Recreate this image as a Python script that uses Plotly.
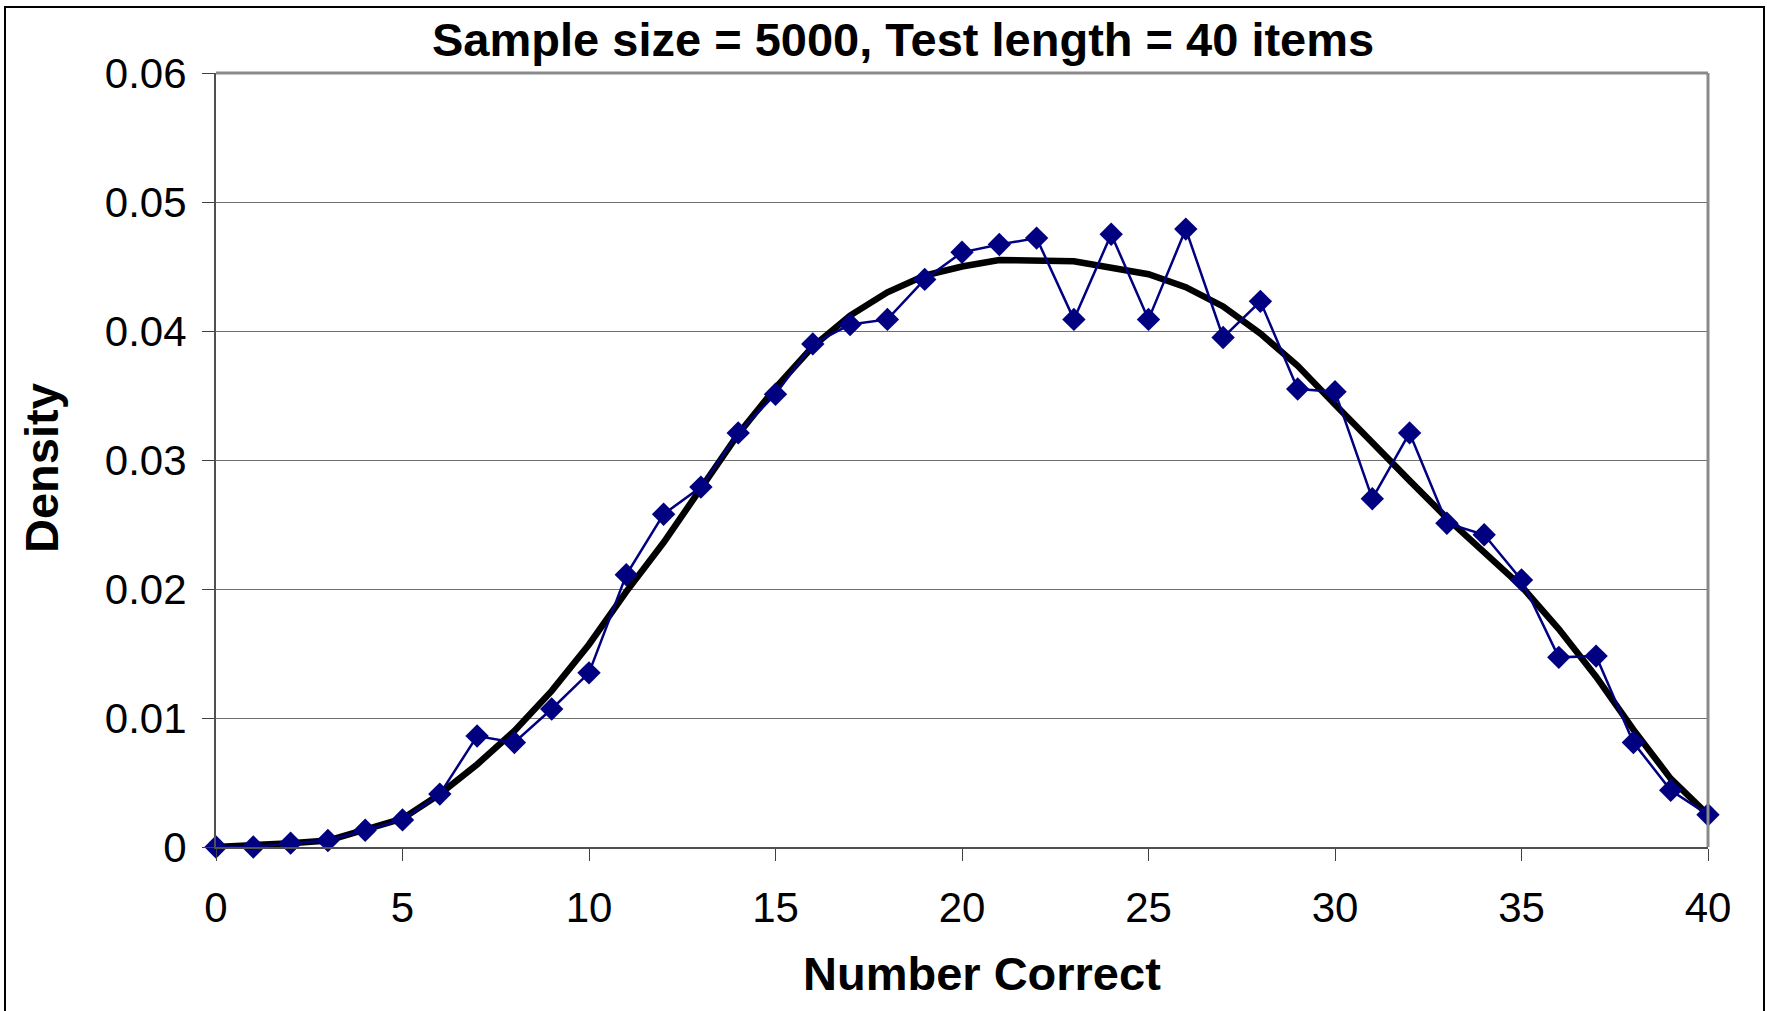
import plotly.graph_objects as go

# ---- data ----
number_correct = list(range(0, 41))
observed_density = [
    0.0000, 0.0000, 0.0003, 0.0005, 0.0013, 0.0021, 0.0041, 0.0086, 0.0081, 0.0107,
    0.0135, 0.0211, 0.0258, 0.0279, 0.0321, 0.0351, 0.0390, 0.0405, 0.0409, 0.0440,
    0.0461, 0.0467, 0.0472, 0.0409, 0.0475, 0.0409, 0.0479, 0.0395, 0.0423, 0.0355,
    0.0353, 0.0270, 0.0321, 0.0251, 0.0242, 0.0207, 0.0147, 0.0148, 0.0081, 0.0044,
    0.0025,
]
fitted_density = [
    0.0000, 0.0001, 0.0003, 0.0005, 0.0013, 0.0022, 0.0041, 0.0064, 0.0090, 0.0121,
    0.0157, 0.0198, 0.0236, 0.0277, 0.0320, 0.0356, 0.0388, 0.0412, 0.0430, 0.0443,
    0.0450, 0.0455, 0.0455, 0.0454, 0.0449, 0.0444, 0.0434, 0.0419, 0.0398, 0.0373,
    0.0343, 0.0313, 0.0284, 0.0255, 0.0229, 0.0202, 0.0169, 0.0132, 0.0091, 0.0053,
    0.0025,
]
x_tick_vals = [0, 5, 10, 15, 20, 25, 30, 35, 40]
x_tick_text = ["0", "5", "10", "15", "20", "25", "30", "35", "40"]
y_tick_vals = [0, 0.01, 0.02, 0.03, 0.04, 0.05, 0.06]
y_tick_text = ["0", "0.01", "0.02", "0.03", "0.04", "0.05", "0.06"]
title_text = "Sample size = 5000, Test length = 40 items"
x_title = "Number Correct"
y_title = "Density"

FONT = "Liberation Sans, Arial, Helvetica, sans-serif"
W, H = 1767, 1011
L, R, T, B = 216, 1708, 73, 847  # plot area in pixels


def px_x(p):
    return (p - L) / (R - L)


def px_y(p):
    return (B - p) / (B - T)


fig = go.Figure()

fig.add_trace(go.Scatter(
    x=number_correct, y=fitted_density, mode="lines",
    line=dict(color="black", width=6.5),
    cliponaxis=False, showlegend=False,
))
fig.add_trace(go.Scatter(
    x=number_correct, y=observed_density, mode="lines+markers",
    line=dict(color="#000080", width=2.5),
    marker=dict(symbol="diamond", size=18, color="#000080"),
    cliponaxis=False, showlegend=False,
))

fig.update_layout(
    width=W, height=H,
    margin=dict(l=L, r=W - R, t=T, b=H - B, pad=0),
    paper_bgcolor="white", plot_bgcolor="white",
    font=dict(family=FONT, color="black"),
    showlegend=False,
)

fig.update_xaxes(
    range=[0, 40], tickvals=x_tick_vals, ticktext=x_tick_text,
    ticks="outside", ticklen=12, tickwidth=1, tickcolor="#404040",
    showline=True, linecolor="#505050", linewidth=2,
    showgrid=False, zeroline=False,
    tickfont=dict(size=42, family=FONT, color="black"),
    ticklabelstandoff=11,
)
fig.update_yaxes(
    range=[0, 0.06], tickvals=y_tick_vals, ticktext=y_tick_text,
    ticks="outside", ticklen=12, tickwidth=1, tickcolor="#404040",
    showline=True, linecolor="#505050", linewidth=2,
    showgrid=True, gridcolor="#707070", gridwidth=1.3,
    zeroline=False,
    tickfont=dict(size=42, family=FONT, color="black"),
    ticklabelstandoff=7,
)

# plot-area border (top and right) in grey
fig.add_shape(type="line", xref="paper", yref="paper", x0=0, x1=1, y0=1, y1=1,
              line=dict(color="#8a8a8a", width=3))
fig.add_shape(type="line", xref="paper", yref="paper", x0=1, x1=1, y0=0, y1=1,
              line=dict(color="#8a8a8a", width=3))
# outer chart border
fig.add_shape(type="rect", xref="paper", yref="paper",
              x0=px_x(5), x1=px_x(1764), y0=px_y(1030), y1=px_y(7),
              line=dict(color="black", width=2), fillcolor="rgba(0,0,0,0)", layer="below")

fig.add_annotation(text="<b>" + title_text + "</b>", xref="paper", yref="paper",
                   x=px_x(903), y=px_y(40), xanchor="center", yanchor="middle",
                   showarrow=False, font=dict(size=47, family=FONT, color="black"))
fig.add_annotation(text="<b>" + x_title + "</b>", xref="paper", yref="paper",
                   x=px_x(982), y=px_y(973), xanchor="center", yanchor="middle",
                   showarrow=False, font=dict(size=47, family=FONT, color="black"))
fig.add_annotation(text="<b>" + y_title + "</b>", xref="paper", yref="paper",
                   x=px_x(41), y=px_y(468), xanchor="center", yanchor="middle",
                   textangle=-90, showarrow=False,
                   font=dict(size=47, family=FONT, color="black"))

fig.write_html("out.html",
               config={"displayModeBar": False},
               post_script="document.body.style.margin='0';document.body.style.overflow='hidden';")
